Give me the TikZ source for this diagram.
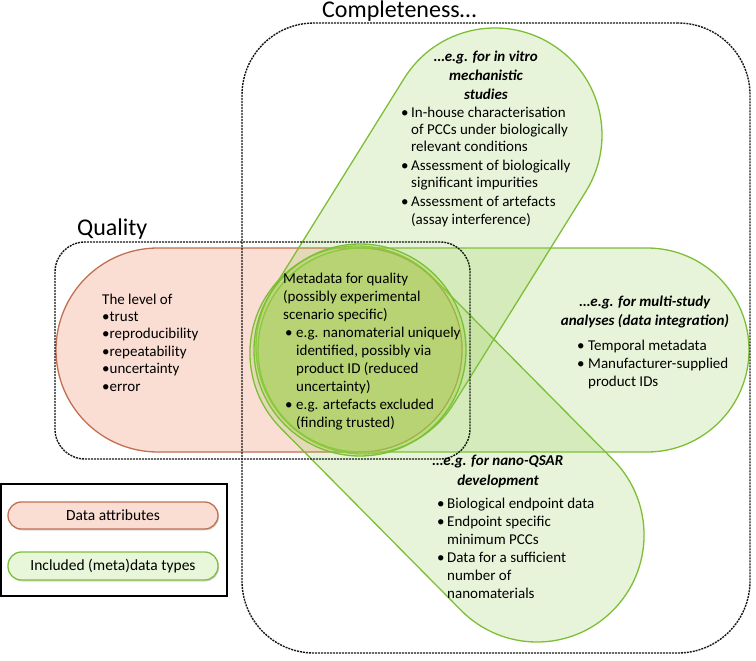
\documentclass[tikz,border=0pt]{standalone}
\usepackage{fontspec}
\setmainfont{Carlito}
\usetikzlibrary{shadows}
\definecolor{pinkfill}{RGB}{250,222,212}
\definecolor{pinkline}{RGB}{192,112,80}
\definecolor{greenfill}{RGB}{140,200,70}
\definecolor{circlefill}{RGB}{160,215,70}
\definecolor{greenline}{RGB}{125,190,55}
\definecolor{legendgreen}{RGB}{232,246,218}
\definecolor{dashcol}{RGB}{20,25,20}
\begin{document}
\begin{tikzpicture}[x=1pt,y=-1pt,
  dashbox/.style={draw=dashcol, line width=1.4pt, dash pattern=on 2pt off 1pt, rectangle, inner sep=0pt},
  pinkpill/.style={draw=pinkline, line width=1.3pt, fill=pinkfill, rectangle, inner sep=0pt},
  greenpill/.style={draw=greenline, line width=1.3pt, fill=greenfill, fill opacity=0.2, draw opacity=1, rectangle, inner sep=0pt},
  txtbody/.style={font=\fontsize{15}{18}\selectfont, align=left, anchor=north west, inner sep=0pt},
  txthead/.style={font=\fontsize{15}{19}\selectfont\bfseries\itshape, align=center, anchor=north, inner sep=0pt},
  bigtitle/.style={font=\fontsize{24}{28}\selectfont, anchor=base west, inner sep=0pt},
  legpill/.style={rectangle, line width=1.3pt, minimum width=210pt, rounded corners=13.4pt, inner sep=0pt,
    font=\fontsize{15.5}{18}\selectfont,
    drop shadow={fill=black, opacity=0.15, shadow xshift=1pt, shadow yshift=-1.5pt}},
]
\useasboundingbox (0,0) rectangle (756,661);

% data attribute pill (quality)
\node[pinkpill, minimum width=406pt, minimum height=204pt, rounded corners=101.9pt] (attr) at (259,350) {};

% green (meta)data pills
\node[greenpill, minimum width=491pt, minimum height=204pt, rounded corners=101.9pt] (multi) at (503.5,350) {};
\node[greenpill, minimum width=463.7pt, minimum height=214pt, rounded corners=106.9pt, rotate=58.1] (vitro) at (429,241) {};
\node[greenpill, minimum width=470pt, minimum height=214pt, rounded corners=106.9pt, rotate=-45.3] (qsar) at (447,444) {};
\node[circle, draw=greenline, line width=1.3pt, fill=circlefill, fill opacity=0.35, draw opacity=1, minimum size=212pt, inner sep=0pt] (meta) at (360,350) {};

% dashed groups
\node[dashbox, minimum width=508pt, minimum height=630pt, rounded corners=72pt] (complete) at (496,338) {};
\node[dashbox, minimum width=415pt, minimum height=217pt, rounded corners=30pt] (quality) at (262.5,350.5) {};

% titles
\node[bigtitle] (tcomp) at (322,18) {Completeness…};
\node[bigtitle] (tqual) at (77,235) {Quality};

% quality text
\node[txtbody, font=\fontsize{15}{17.4}\selectfont] (lvl) at (102,291.8)
  {\strut The level of\\ •trust\\ •reproducibility\\ •repeatability\\ •uncertainty\\ •error};

% metadata for quality
\node[txtbody] (metatxt) at (283,270.4)
  {\strut Metadata for quality\\ (possibly experimental\\ scenario specific)\\
   \hspace*{2pt}\makebox[11pt][l]{•}e.g. nanomaterial uniquely\\
   \hspace*{13pt}identified, possibly via\\
   \hspace*{13pt}product ID (reduced\\
   \hspace*{13pt}uncertainty)\\
   \hspace*{2pt}\makebox[11pt][l]{•}e.g. artefacts excluded\\
   \hspace*{13pt}(finding trusted)};

% in vitro
\node[txthead] (vitrohead) at (486,47.7) {\strut …e.g. for in vitro\\ mechanistic\\ studies};
\node[txtbody, font=\fontsize{15}{17.3}\selectfont] (vitrotxt) at (401,104.9)
  {\strut\makebox[10pt][l]{•}In-house characterisation\\
   \hspace*{10pt}of PCCs under biologically\\
   \hspace*{10pt}relevant conditions\\[1.5pt]
   \makebox[10pt][l]{•}Assessment of biologically\\
   \hspace*{10pt}significant impurities\\[1.5pt]
   \makebox[10pt][l]{•}Assessment of artefacts\\
   \hspace*{10pt}(assay interference)};

% multi-study
\node[txthead] (multihead) at (645,292.7) {\strut …e.g. for multi-study\\ analyses (data integration)};
\node[txtbody] (multitxt) at (577,337.4)
  {\strut\makebox[11pt][l]{•}Temporal metadata\\
   \makebox[11pt][l]{•}Manufacturer-supplied\\
   \hspace*{11pt}product IDs};

% nano-QSAR
\node[txthead, font=\fontsize{15}{20}\selectfont\bfseries\itshape] (qsarhead) at (498,451) {\strut …e.g. for nano-QSAR\\ development};
\node[txtbody] (qsartxt) at (437,495.4)
  {\strut\makebox[10pt][l]{•}Biological endpoint data\\
   \makebox[10pt][l]{•}Endpoint specific\\
   \hspace*{10pt}minimum PCCs\\
   \makebox[10pt][l]{•}Data for a sufficient\\
   \hspace*{10pt}number of\\
   \hspace*{10pt}nanomaterials};

% legend
\node[draw=black, line width=1.5pt, rectangle, minimum width=226pt, minimum height=112pt, inner sep=0pt] (legend) at (114,540) {};
\node[legpill, draw=pinkline, fill=pinkfill, minimum height=27pt] (legattr) at (113,515.5) {Data attributes};
\node[legpill, draw=greenline, fill=legendgreen, minimum height=28pt] (legtypes) at (113,566) {Included (meta)data types};
\end{tikzpicture}
\end{document}
